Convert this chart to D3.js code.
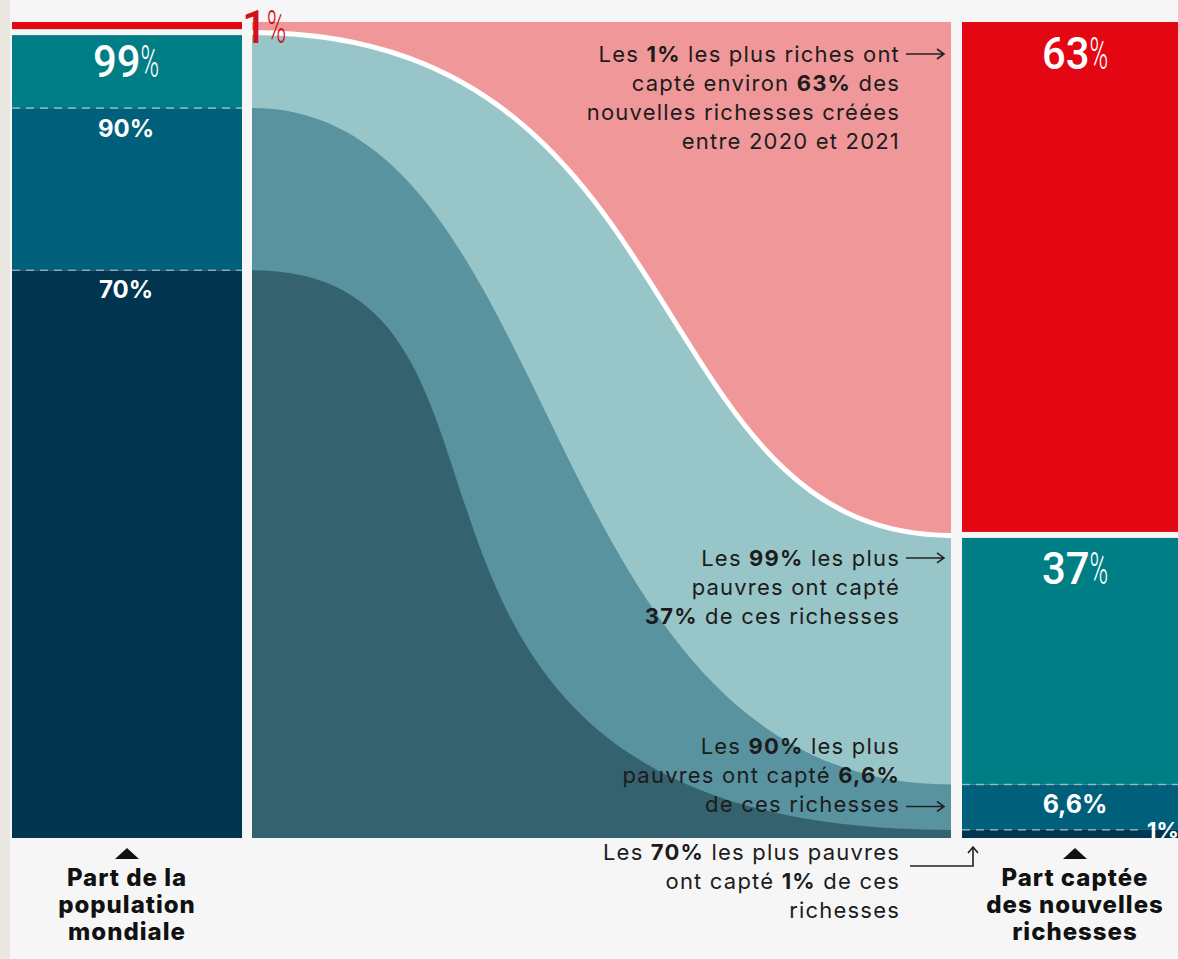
<!DOCTYPE html>
<html>
<head>
<meta charset="utf-8">
<script src="https://cdn.jsdelivr.net/npm/d3@7"></script>
<style>
  html, body { margin: 0; padding: 0; background: #f6f6f6; }
  svg { display: block; }
  .note { font-family: Inter, "Noto Sans", sans-serif; font-size: 22px; letter-spacing: 1.2px; fill: #1c1c1c; }
  .big { font-family: Roboto, "Noto Sans", sans-serif; }
  .small { font-family: Inter, "Noto Sans", sans-serif; font-weight: 700; }
  .caption { font-family: Inter, "Noto Sans", sans-serif; font-weight: 800; font-size: 24px; letter-spacing: 1px; fill: #111; }
</style>
</head>
<body>
<svg id="chart"></svg>
<script>
// ─── Data ──────────────────────────────────────────────
// population groups (left bar), cut points from the top
const popCuts   = [100, 99, 90, 70, 0];
const popLabels = ['1%', '99%', '90%', '70%'];

// share of new wealth captured (right bar), cut points from the top
const wealthCuts   = [100, 37, 6.6, 1, 0];
const wealthLabels = ['63%', '37%', '6,6%', '1%'];

// annotations: odd pieces are bold
const notes = [
  [['Les ', '1%', ' les plus riches ont'], ['capté environ ', '63%', ' des'], ['nouvelles richesses créées'], ['entre 2020 et 2021']],
  [['Les ', '99%', ' les plus'], ['pauvres ont capté'], ['', '37%', ' de ces richesses']],
  [['Les ', '90%', ' les plus'], ['pauvres ont capté ', '6,6%'], ['de ces richesses']],
  [['Les ', '70%', ' les plus pauvres'], ['ont capté ', '1%', ' de ces'], ['richesses']]
];

const captions = [
  ['Part de la', 'population', 'mondiale'],
  ['Part captée', 'des nouvelles', 'richesses']
];

// ─── Layout / style ────────────────────────────────────
const W = 1178, H = 959;
const LEFT = [12, 242], MID = [252, 951], RIGHT = [962, 1188];
const barColors  = ['#e30613', '#007e85', '#005f7a', '#00344f'];
const flowColors = ['#f0979a', '#98c6c8', '#5a93a0', '#35626f'];
const bends = [null, [0.64, 0.45], [0.45, 0.6], [0.47, 0.93]];
const GAP = 5;

const y = d3.scaleLinear().domain([0, 100]).range([838, 27]);

const svg = d3.select('#chart').attr('width', W).attr('height', H);

svg.append('rect').attr('width', W).attr('height', H).attr('fill', '#f6f6f6');
svg.append('rect').attr('width', 10).attr('height', H).attr('fill', '#e9e7df');

// ─── Bars ──────────────────────────────────────────────
function segTop(i, cuts) { return i === 0 ? y(cuts[0]) - GAP : y(cuts[i]); }
function segBot(i, cuts) { return i === 0 ? y(cuts[1]) - GAP - 1 : y(cuts[i + 1]); }

function drawBar(xr, cuts) {
  const g = svg.append('g');
  g.selectAll('rect')
    .data(d3.range(cuts.length - 1))
    .enter().append('rect')
    .attr('x', xr[0]).attr('width', xr[1] - xr[0])
    .attr('y', i => segTop(i, cuts))
    .attr('height', i => segBot(i, cuts) - segTop(i, cuts))
    .attr('fill', i => barColors[i]);
  // dashed separators between the lower groups
  g.selectAll('line')
    .data(d3.range(2, cuts.length - 1))
    .enter().append('line')
    .attr('x1', xr[0])
    .attr('x2', i => (i === cuts.length - 2 && xr === RIGHT) ? 1140 : xr[1])
    .attr('y1', i => y(cuts[i])).attr('y2', i => y(cuts[i]))
    .attr('stroke', 'rgba(255,255,255,0.45)')
    .attr('stroke-width', 1.6)
    .attr('stroke-dasharray', '8 6');
}

drawBar(LEFT, popCuts);
drawBar(RIGHT, wealthCuts);

// ─── Flows ─────────────────────────────────────────────
svg.append('rect')
  .attr('x', MID[0]).attr('width', MID[1] - MID[0])
  .attr('y', y(100) - GAP).attr('height', y(0) - y(100) + GAP)
  .attr('fill', flowColors[0]);

function flowCurve(p, yL, yR, b) {
  const x0 = MID[0], x1 = MID[1], w = x1 - x0;
  p.moveTo(x0, yL);
  p.bezierCurveTo(x0 + b[0] * w, yL, x1 - b[1] * w, yR, x1, yR);
  return p;
}

for (let k = 1; k < popCuts.length - 1; k++) {
  const off = k === 1 ? -2.5 : 0;
  const yL = y(popCuts[k]) + off, yR = y(wealthCuts[k]) + off;
  const p = flowCurve(d3.path(), yL, yR, bends[k]);
  p.lineTo(MID[1], y(0));
  p.lineTo(MID[0], y(0));
  p.closePath();
  svg.append('path').attr('d', p.toString()).attr('fill', flowColors[k]);
  if (k === 1) {
    svg.append('path')
      .attr('d', flowCurve(d3.path(), yL, yR, bends[k]).toString())
      .attr('fill', 'none').attr('stroke', '#fff').attr('stroke-width', 5);
  }
}

// ─── Bar labels ────────────────────────────────────────
const labelG = svg.append('g');

// condensed figure: digits slightly narrowed, a thin narrow "%" after them
function bigLabel(x, yy, txt, color, size, anchor) {
  const g = labelG.append('g');
  const num = g.append('text').attr('class', 'big')
    .attr('font-size', size).attr('font-weight', 500).attr('fill', color)
    .attr('transform', 'scale(0.93,1)')
    .text(txt.replace('%', ''));
  const nw = num.node().getComputedTextLength() * 0.93;
  const pct = g.append('text').attr('class', 'big')
    .attr('font-size', size).attr('font-weight', 300).attr('fill', color)
    .attr('transform', `translate(${nw},0) scale(0.56,1)`)
    .text('%');
  const w = nw + pct.node().getComputedTextLength() * 0.56;
  const x0 = anchor === 'start' ? x : x - w / 2;
  g.attr('transform', `translate(${x0},${yy})`);
}

function smallLabel(x, yy, txt, size, anchor) {
  labelG.append('text').attr('class', 'small')
    .attr('x', x).attr('y', yy)
    .attr('text-anchor', anchor || 'middle')
    .attr('font-size', size).attr('fill', '#fff')
    .text(txt);
}

const lc = (LEFT[0] + LEFT[1]) / 2 - 1;
const rc = (RIGHT[0] + RIGHT[1]) / 2;

// left bar
bigLabel(242, 43, popLabels[0], '#d3111c', 47, 'start');
bigLabel(lc, segTop(1, popCuts) + 42, popLabels[1], '#fff', 45);
smallLabel(lc, y(popCuts[2]) + 29, popLabels[2], 24);
smallLabel(lc, y(popCuts[3]) + 28, popLabels[3], 24);

// right bar
bigLabel(rc, segTop(0, wealthCuts) + 47, wealthLabels[0], '#fff', 45);
bigLabel(rc, y(wealthCuts[1]) + 46, wealthLabels[1], '#fff', 45);
smallLabel(rc, y(wealthCuts[2]) + 29, wealthLabels[2], 25);
smallLabel(1147, y(0), wealthLabels[3], 22, 'start');

// ─── Annotations ───────────────────────────────────────
const NOTE_X = 900, LH = 29;
const noteY = [y(100) + 35, y(wealthCuts[1]) + 28, y(wealthCuts[2]) - 30, y(0) + 22];

const noteG = svg.append('g');
notes.forEach((lines, n) => {
  lines.forEach((pieces, li) => {
    const t = noteG.append('text').attr('class', 'note')
      .attr('x', NOTE_X).attr('y', noteY[n] + li * LH)
      .attr('text-anchor', 'end');
    pieces.forEach((s, j) => {
      if (s) t.append('tspan').attr('font-weight', j % 2 ? 700 : 400).text(s);
    });
  });
});

function arrowRight(yy) {
  const x0 = 906, x1 = 944;
  noteG.append('path')
    .attr('d', `M${x0},${yy}H${x1}M${x1 - 7},${yy - 5}L${x1},${yy}L${x1 - 7},${yy + 5}`)
    .attr('fill', 'none').attr('stroke', '#222').attr('stroke-width', 1.6);
}
arrowRight(noteY[0] - 8);
arrowRight(noteY[1] - 8);
arrowRight(noteY[2] + 2 * LH - 6);

// hooked arrow for the 70% note
const hx = 973, hy = noteY[3] + 6;
noteG.append('path')
  .attr('d', `M910,${hy}H${hx}V${y(0) + 9}M${hx - 5},${y(0) + 15}L${hx},${y(0) + 9}L${hx + 5},${y(0) + 15}`)
  .attr('fill', 'none').attr('stroke', '#222').attr('stroke-width', 1.6);

// ─── Captions ──────────────────────────────────────────
[lc + 1, rc].forEach((cx, i) => {
  const top = y(0) + 10;
  svg.append('path')
    .attr('d', `M${cx - 12},${top + 11}L${cx},${top}L${cx + 12},${top + 11}Z`)
    .attr('fill', '#111');
  captions[i].forEach((s, li) => {
    svg.append('text').attr('class', 'caption')
      .attr('x', cx).attr('y', 886 + li * 27)
      .attr('text-anchor', 'middle')
      .text(s);
  });
});
</script>
</body>
</html>
